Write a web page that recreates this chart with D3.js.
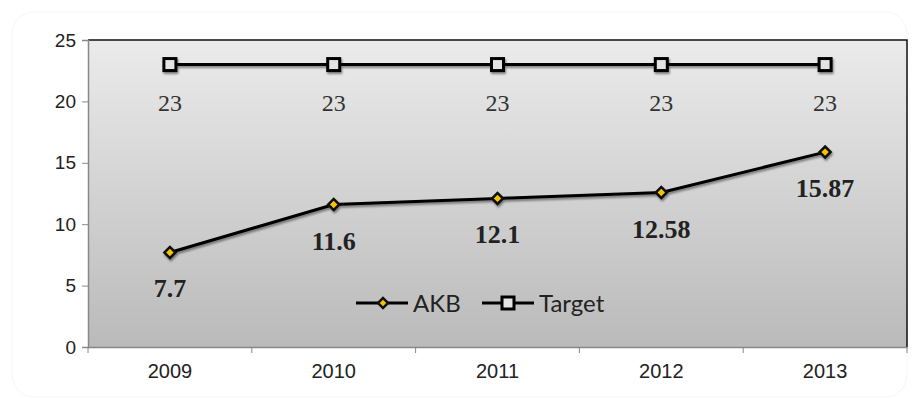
<!DOCTYPE html>
<html><head><meta charset="utf-8">
<script src="https://cdn.jsdelivr.net/npm/d3@7"></script>
<style>body{margin:0;background:#fff}svg{display:block}</style>
</head><body>
<script>
const years = ["2009","2010","2011","2012","2013"];
const akb = [7.7, 11.6, 12.1, 12.58, 15.87];
const target = [23, 23, 23, 23, 23];
const yTicks = [0, 5, 10, 15, 20, 25];
const seriesNames = ["AKB", "Target"];

const W = 915, H = 405;
const m = {l: 88, r: 8, t: 40, b: 58};
const svg = d3.select("body").append("svg").attr("width", W).attr("height", H);
const defs = svg.append("defs");
const grad = defs.append("linearGradient").attr("id","bg").attr("x1",0).attr("y1",0).attr("x2",0).attr("y2",1);
grad.append("stop").attr("offset","0%").attr("stop-color","#ebebeb");
grad.append("stop").attr("offset","100%").attr("stop-color","#bababa");
const sh = defs.append("filter").attr("id","sh").attr("filterUnits","userSpaceOnUse")
  .attr("x",0).attr("y",0).attr("width",W).attr("height",H);
sh.append("feGaussianBlur").attr("in","SourceAlpha").attr("stdDeviation",1.2).attr("result","b");
sh.append("feOffset").attr("in","b").attr("dx",1).attr("dy",2).attr("result","o");
sh.append("feComponentTransfer").attr("in","o").attr("result","o2").append("feFuncA").attr("type","linear").attr("slope",0.45);
const mg = sh.append("feMerge"); mg.append("feMergeNode").attr("in","o2"); mg.append("feMergeNode").attr("in","SourceGraphic");

svg.append("rect").attr("x",12).attr("y",12).attr("width",W-20).attr("height",H-20).attr("rx",22)
  .attr("fill","#fff").attr("stroke","#f6f6f6").attr("stroke-width",1);

const x = d3.scaleBand().domain(years).range([m.l, W - m.r]);
const y = d3.scaleLinear().domain([0, 25]).range([H - m.b, m.t]);
const cx = d => x(d) + x.bandwidth()/2;

svg.append("rect").attr("x", m.l).attr("y", m.t).attr("width", W - m.r - m.l).attr("height", H - m.b - m.t).attr("fill","url(#bg)");
svg.append("path").attr("d", `M${m.l},${m.t}H${W-m.r}V${H-m.b}`).attr("fill","none").attr("stroke","#111").attr("stroke-width",1.5);

const ya = svg.append("g").attr("transform",`translate(${m.l},0)`).call(d3.axisLeft(y).tickValues(yTicks).tickSize(6).tickPadding(6));
const xa = svg.append("g").attr("transform",`translate(0,${H-m.b})`).call(d3.axisBottom(x).tickSize(0).tickPadding(17));
svg.append("g").selectAll("line").data(years.concat(["end"])).join("line")
  .attr("x1",(d,i)=> i<years.length ? x(d) : W-m.r).attr("x2",(d,i)=> i<years.length ? x(d) : W-m.r)
  .attr("y1",H-m.b).attr("y2",H-m.b+6).attr("stroke","#888");
[ya, xa].forEach(a => {
  a.selectAll("path").attr("stroke","#888").attr("stroke-width",1.5);
  a.selectAll("line").attr("stroke","#888");
  a.selectAll("text").attr("font-family","Liberation Sans, Arial, sans-serif").attr("font-size",19).attr("fill","#222");
});
xa.selectAll("text").attr("font-size",20);

const marks = svg.append("g").attr("filter","url(#sh)");
const line = d3.line().x((d,i)=>cx(years[i])).y(d=>y(d));
marks.append("path").datum(target).attr("d", line).attr("fill","none").attr("stroke","#000").attr("stroke-width",3);
marks.append("path").datum(akb).attr("d", line).attr("fill","none").attr("stroke","#000").attr("stroke-width",3);

marks.append("g").selectAll("rect").data(target).join("rect")
  .attr("x",(d,i)=>cx(years[i])-6).attr("y",d=>y(d)-6).attr("width",12).attr("height",12)
  .attr("fill","#e4e4e4").attr("stroke","#000").attr("stroke-width",3);
marks.append("g").selectAll("path").data(akb).join("path")
  .attr("d", d3.symbol().type(d3.symbolSquare).size(60))
  .attr("transform",(d,i)=>`translate(${cx(years[i])},${y(d)}) rotate(45)`)
  .attr("fill","#f5c400").attr("stroke","#111").attr("stroke-width",2.5);

svg.append("g").selectAll("text").data(target).join("text")
  .attr("x",(d,i)=>cx(years[i])).attr("y",d=>y(d)+46).attr("text-anchor","middle")
  .attr("font-family","Liberation Serif, serif").attr("font-size",24).attr("fill","#333").text(d=>d);
svg.append("g").selectAll("text").data(akb).join("text")
  .attr("x",(d,i)=>cx(years[i])).attr("y",d=>y(d)+45).attr("text-anchor","middle")
  .attr("font-family","Liberation Serif, serif").attr("font-weight","bold").attr("font-size",26).attr("fill","#222").text(d=>d);

const lg = svg.append("g");
const lx = [356, 482];
seriesNames.forEach((n,i)=>{
  const g = lg.append("g").attr("transform",`translate(${lx[i]},303)`);
  g.append("line").attr("x1",0).attr("x2",52).attr("stroke","#000").attr("stroke-width",3);
  if(i===0){
    g.append("path").attr("d", d3.symbol().type(d3.symbolSquare).size(50)).attr("transform","translate(27,0) rotate(45)")
      .attr("fill","#f5c400").attr("stroke","#111").attr("stroke-width",2.5);
  } else {
    g.append("rect").attr("x",20).attr("y",-6).attr("width",12).attr("height",12).attr("fill","#e4e4e4").attr("stroke","#000").attr("stroke-width",3);
  }
  g.append("text").attr("x",57).attr("y",9).attr("font-family","Lato, Open Sans, sans-serif").attr("font-size",24).attr("fill","#222").text(n);
});
</script>
</body></html>
